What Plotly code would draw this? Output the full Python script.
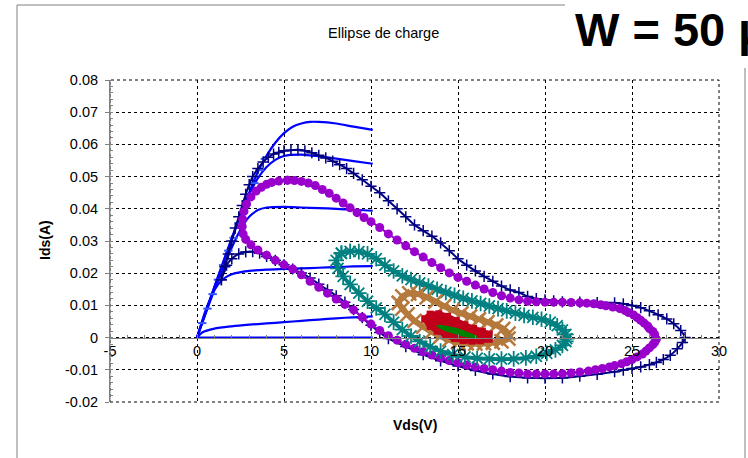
import plotly.graph_objects as go

# ---------------- data ----------------
# I-V network (Vgs steps), Vds in V, Ids in A
iv1_vds = [0, 1, 2, 3, 3.5, 4, 4.5, 5, 5.5, 6, 6.5, 7, 8, 9, 10.1]
iv1_ids = [0, 0.0158, 0.031, 0.045, 0.0515, 0.0565, 0.0605, 0.0635, 0.0655, 0.0665, 0.067, 0.067, 0.0665, 0.0655, 0.0645]
iv2_vds = [0, 1, 2, 2.5, 3, 3.5, 4, 4.5, 5, 6, 7, 8, 9, 10.1]
iv2_ids = [0, 0.0156, 0.0305, 0.038, 0.0445, 0.0495, 0.053, 0.0552, 0.0564, 0.0568, 0.0563, 0.0556, 0.0548, 0.054]
iv3_vds = [0, 1, 1.5, 2, 2.5, 3, 3.5, 4, 5, 6, 7, 8, 9, 10.1]
iv3_ids = [0, 0.0148, 0.0215, 0.028, 0.0335, 0.0375, 0.0396, 0.0404, 0.0406, 0.0404, 0.0402, 0.04, 0.0397, 0.0394]
iv4_vds = [0, 0.5, 1, 1.5, 2, 3, 4, 5, 6, 7, 8, 9, 10.1]
iv4_ids = [0, 0.0085, 0.0148, 0.0182, 0.0197, 0.0207, 0.0211, 0.0213, 0.0215, 0.0217, 0.0219, 0.0221, 0.0222]
iv5_vds = [0, 0.3, 1, 2, 3, 4, 5, 6, 7, 8, 9, 10.1]
iv5_ids = [0, 0.0016, 0.0028, 0.0035, 0.004, 0.0044, 0.0048, 0.0052, 0.0056, 0.006, 0.0063, 0.0066]
iv6_vds = [0, 10.1]
iv6_ids = [0, 0]

meas_vds = [0.3, 0.6, 0.9, 1.2, 1.5, 1.8, 2.1, 2.4, 2.7, 3.0, 3.3, 3.6, 3.9]
meas_ids = [0.0045, 0.009, 0.0135, 0.018, 0.0225, 0.027, 0.031, 0.0355, 0.040, 0.0445, 0.048, 0.052, 0.0555]

# Load cycle 1 (navy, + markers)
c1_vds = [1.4, 1.6, 1.8, 2.0, 2.2, 2.4, 2.6, 2.8, 3.0, 3.2, 3.5, 3.8, 4.1, 4.4, 4.7, 5.0, 5.4, 5.8,
          6.2, 6.6, 7.0, 7.4, 7.8, 8.2, 8.6, 9.0, 9.5, 10.0, 10.5, 11.0, 11.5, 12.0, 12.5, 13.0,
          13.5, 14.0, 14.5, 15.0, 15.5, 16.0, 16.5, 17.0, 17.5, 18.0, 18.5, 19.0, 19.5, 20.0,
          20.5, 21.0, 22.0, 23.0, 24.0, 24.5, 25.0, 25.5, 26.0, 26.5, 27.0, 27.4, 27.8, 28.05,
          27.9, 27.6, 27.2, 26.8, 26.4, 26.0, 25.5, 25.0, 24.5, 24.0, 23.0, 22.0, 21.0, 20.0,
          19.0, 18.0, 17.0, 16.0, 15.0, 14.0, 13.0, 12.0, 11.0, 10.5, 10.0, 9.5, 9.0, 8.5, 8.0,
          7.5, 7.0, 6.5, 6.0, 5.5, 5.0, 4.5, 4.0, 3.6, 3.2, 2.8, 2.4, 2.0, 1.7, 1.4]
c1_ids = [0.018, 0.022, 0.026, 0.030, 0.034, 0.0375, 0.041, 0.0445, 0.0475, 0.050, 0.0525, 0.0545,
          0.056, 0.057, 0.0575, 0.058, 0.0582, 0.0583, 0.058, 0.0574, 0.0566, 0.0558, 0.0548,
          0.0537, 0.0525, 0.051, 0.049, 0.047, 0.045, 0.0425, 0.040, 0.0375, 0.035, 0.0332,
          0.0315, 0.0294, 0.027, 0.0245, 0.0225, 0.0207, 0.019, 0.0175, 0.016, 0.0148, 0.014,
          0.0128, 0.0121, 0.0117, 0.0114, 0.0111, 0.011, 0.0109, 0.0108, 0.0105, 0.010, 0.0093,
          0.0083, 0.0071, 0.0058, 0.0043, 0.0022, 0.0, -0.0015, -0.0035, -0.0055, -0.0068,
          -0.0077, -0.0084, -0.0091, -0.0096, -0.0101, -0.0106, -0.0114, -0.012, -0.0125,
          -0.0126, -0.0125, -0.0121, -0.0113, -0.0102, -0.0088, -0.0072, -0.0053, -0.0028,
          -0.0003, 0.0016, 0.0038, 0.0062, 0.0087, 0.011, 0.013, 0.0148, 0.0166, 0.0185, 0.0201,
          0.0213, 0.0226, 0.024, 0.0252, 0.0262, 0.0267, 0.0266, 0.026, 0.0245, 0.0225, 0.018]

# Load cycle 2 (purple, circle markers)
c2_vds = [5.2, 5.6, 6.0, 6.4, 6.8, 7.2, 7.6, 8.0, 8.4, 8.8, 9.2, 9.6, 10.0, 10.5, 11.0, 11.5,
          12.0, 12.5, 13.0, 13.5, 14.0, 14.5, 15.0, 15.5, 16.0, 16.5, 17.0, 17.5, 18.0, 18.5,
          19.0, 19.5, 20.0, 20.5, 21.0, 21.5, 22.0, 22.4, 22.8, 23.2, 23.5, 23.9, 24.3, 24.6,
          24.8, 25.1, 25.3, 25.5, 25.7, 25.9, 26.0, 26.2, 26.3, 26.4, 26.3, 26.2, 26.0, 25.8,
          25.6, 25.3, 25.0, 24.7, 24.4, 24.0, 23.7, 23.3, 22.9, 22.5, 22.0, 21.5, 21.0, 20.5,
          20.0, 19.5, 19.0, 18.5, 18.0, 17.5, 17.0, 16.5, 16.0, 15.5, 15.0, 14.5, 14.0, 13.5,
          13.0, 12.5, 12.0, 11.5, 11.0, 10.5, 10.0, 9.5, 9.0, 8.5, 8.0, 7.5, 7.0, 6.5, 6.0,
          5.5, 5.0, 4.5, 4.0, 3.5, 3.1, 2.8, 2.65, 2.6, 2.62, 2.7, 2.85, 3.1, 3.4, 3.7, 4.0,
          4.3, 4.7, 5.2]
c2_ids = [0.0489, 0.0488, 0.0485, 0.048, 0.0472, 0.046, 0.0448, 0.0433, 0.0418, 0.0403, 0.0388,
          0.0373, 0.036, 0.0342, 0.0322, 0.0303, 0.0285, 0.0267, 0.025, 0.0233, 0.0217, 0.0201,
          0.0187, 0.0175, 0.0163, 0.0151, 0.014, 0.013, 0.0123, 0.0117, 0.0113, 0.0111, 0.011,
          0.011, 0.011, 0.0109, 0.0108, 0.0107, 0.0105, 0.0102, 0.0099, 0.0095, 0.009, 0.0084,
          0.0078, 0.007, 0.0062, 0.0054, 0.0045, 0.0036, 0.0028, 0.0019, 0.001, -0.0005, -0.0015,
          -0.0022, -0.0032, -0.0042, -0.0051, -0.006, -0.0068, -0.0075, -0.0081, -0.0087,
          -0.0091, -0.0096, -0.01, -0.0104, -0.0107, -0.011, -0.0112, -0.0113, -0.0113, -0.0113,
          -0.0113, -0.011, -0.0108, -0.0104, -0.01, -0.0096, -0.0091, -0.0085, -0.0078, -0.0071,
          -0.0063, -0.0054, -0.0044, -0.0033, -0.0021, -0.0008, 0.0006, 0.0022, 0.0042, 0.0063,
          0.0086, 0.0103, 0.012, 0.0138, 0.0156, 0.0175, 0.0195, 0.0213, 0.0226, 0.024, 0.0256,
          0.0272, 0.0288, 0.0305, 0.0322, 0.0345, 0.0368, 0.0392, 0.0415, 0.0437, 0.0455,
          0.0467, 0.0476, 0.0482, 0.0486, 0.0489]

# Load cycle 3 (teal, asterisk markers)
c3_vds = [8.3, 8.8, 9.3, 9.8, 10.3, 10.8, 11.3, 11.8, 12.3, 12.8, 13.3, 13.8, 14.3, 14.8, 15.3,
          15.8, 16.3, 16.8, 17.3, 17.8, 18.3, 18.8, 19.3, 19.8, 20.3, 20.7, 21.0, 21.2, 21.25,
          21.2, 21.0, 20.6, 20.1, 19.5, 18.9, 18.2, 17.5, 16.8, 16.1, 15.4, 14.7, 14.0, 13.4,
          12.8, 12.3, 11.8, 11.3, 10.8, 10.3, 9.8, 9.3, 8.8, 8.4, 8.1, 8.0, 8.3]
c3_ids = [0.0262, 0.0268, 0.0267, 0.026, 0.0245, 0.0225, 0.0207, 0.0192, 0.018, 0.017, 0.016,
          0.015, 0.014, 0.0131, 0.0122, 0.0114, 0.0106, 0.0098, 0.009, 0.0083, 0.0076, 0.0069,
          0.0063, 0.0057, 0.0048, 0.0037, 0.0024, 0.001, -0.0003, -0.0012, -0.0024, -0.0038,
          -0.0049, -0.0058, -0.0063, -0.0066, -0.0067, -0.0066, -0.0064, -0.006, -0.0053,
          -0.0042, -0.0028, -0.0012, 0.0005, 0.0025, 0.0048, 0.0072, 0.0092, 0.0113, 0.0138,
          0.0165, 0.019, 0.0215, 0.024, 0.0262]

# Load cycle 4 (brown, x markers)
c4_vds = [11.6, 11.8, 12.2, 12.7, 13.2, 13.7, 14.2, 14.7, 15.2, 15.7, 16.2, 16.7, 17.2, 17.6,
          17.9, 17.9, 17.5, 17.0, 16.5, 16.0, 15.5, 15.0, 14.5, 14.0, 13.5, 13.0, 12.5, 12.1,
          11.8, 11.6]
c4_ids = [0.0108, 0.0128, 0.0137, 0.0135, 0.0125, 0.0112, 0.0098, 0.0085, 0.0075, 0.0066, 0.0057,
          0.0048, 0.0038, 0.0027, 0.0012, -0.0003, -0.0012, -0.0016, -0.0018, -0.0019, -0.0018,
          -0.0014, -0.0007, 0.0004, 0.0018, 0.0034, 0.0052, 0.0072, 0.009, 0.0108]

# Load cycle 5 (red)
c5_vds = [13.1, 13.4, 13.9, 14.4, 14.9, 15.4, 15.9, 16.4, 16.8, 16.8, 16.3, 15.8, 15.3, 14.8,
          14.3, 13.8, 13.4, 13.1]
c5_ids = [0.0058, 0.0073, 0.0074, 0.0066, 0.0053, 0.004, 0.0029, 0.002, 0.0011, -0.0005, -0.001,
          -0.0011, -0.0009, -0.0003, 0.0007, 0.002, 0.0035, 0.0058]

# Load cycle 6 (green)
c6_vds = [13.8, 14.3, 14.8, 15.3, 15.8, 16.1, 15.6, 15.1, 14.6, 14.1, 13.8]
c6_ids = [0.0037, 0.0034, 0.0028, 0.002, 0.0009, 0.0002, 0.0003, 0.0009, 0.0017, 0.0027, 0.0037]

x_tickvals = [-5, 0, 5, 10, 15, 20, 25, 30]
x_ticktext = ["-5", "0", "5", "10", "15", "20", "25", "30"]
y_tickvals = [-0.02, -0.01, 0, 0.01, 0.02, 0.03, 0.04, 0.05, 0.06, 0.07, 0.08]
y_ticktext = ["-0.02", "-0.01", "0", "0.01", "0.02", "0.03", "0.04", "0.05", "0.06", "0.07", "0.08"]

chart_title = "Ellipse de charge"
x_title = "Vds(V)"
y_title = "Ids(A)"
side_text = "W = 50 µm"

# ---------------- figure ----------------
W, H = 748, 458
L, R, T, B = 110, 29, 80, 56
PW, PH = W - L - R, H - T - B


def px(x):
    return (x - L) / PW


def py(y):
    return (H - B - y) / PH


FONT = "Liberation Sans, Arial, sans-serif"
BLUE = "#0000FF"

fig = go.Figure()

for vx, vy in [(iv1_vds, iv1_ids), (iv2_vds, iv2_ids), (iv3_vds, iv3_ids),
               (iv4_vds, iv4_ids), (iv5_vds, iv5_ids), (iv6_vds, iv6_ids)]:
    fig.add_trace(go.Scatter(x=vx, y=vy, mode="lines",
                             line=dict(color=BLUE, width=2.2, shape="spline", smoothing=0.6),
                             showlegend=False, hoverinfo="skip"))

fig.add_trace(go.Scatter(x=meas_vds, y=meas_ids, mode="markers",
                         marker=dict(symbol="line-ew", size=6, line=dict(color="#3355FF", width=2)),
                         showlegend=False))

fig.add_trace(go.Scatter(x=c1_vds, y=c1_ids, mode="lines+markers",
                         line=dict(color="#000080", width=2, shape="spline", smoothing=0.5),
                         marker=dict(symbol="cross-thin", size=8, line=dict(color="#000080", width=1.5)),
                         showlegend=False))
fig.add_trace(go.Scatter(x=c2_vds, y=c2_ids, mode="lines+markers",
                         line=dict(color="#9900CC", width=2, shape="spline", smoothing=0.5),
                         marker=dict(symbol="circle", size=9, color="#9900CC"),
                         showlegend=False))
fig.add_trace(go.Scatter(x=c3_vds, y=c3_ids, mode="lines+markers",
                         line=dict(color="#008080", width=4, shape="spline", smoothing=0.5),
                         marker=dict(symbol="asterisk", size=13, line=dict(color="#008080", width=1.8)),
                         showlegend=False))
fig.add_trace(go.Scatter(x=c4_vds, y=c4_ids, mode="lines+markers",
                         line=dict(color="#B5793C", width=6, shape="spline", smoothing=0.5),
                         marker=dict(symbol="x-thin", size=14, line=dict(color="#B5793C", width=2.5)),
                         showlegend=False))
fig.add_trace(go.Scatter(x=c5_vds, y=c5_ids, mode="lines+markers", fill="toself", fillcolor="#C0001A",
                         line=dict(color="#C0001A", width=5, shape="spline", smoothing=0.5),
                         marker=dict(symbol="square", size=7, color="#C0001A"),
                         showlegend=False))
fig.add_trace(go.Scatter(x=c6_vds, y=c6_ids, mode="lines", fill="toself", fillcolor="#008000",
                         line=dict(color="#008000", width=2, shape="spline", smoothing=0.5),
                         showlegend=False))

GRID = dict(showgrid=True, gridcolor="#000000", griddash="dot", gridwidth=1)
TICKFONT = dict(family=FONT, size=14.5)

fig.update_layout(
    width=W, height=H,
    margin=dict(l=L, r=R, t=T, b=B, autoexpand=False),
    paper_bgcolor="white", plot_bgcolor="white",
    font=dict(family=FONT, size=12, color="black"),
    showlegend=False,
    xaxis=dict(range=[-5, 30], tickvals=x_tickvals, ticktext=x_ticktext,
               anchor="free", position=0.2, showline=True, linecolor="#808080", linewidth=1,
               ticks="inside", ticklen=4, tickcolor="#808080", zeroline=False,
               minor=dict(dtick=1, ticks="inside", ticklen=3, tickcolor="#808080", showgrid=False),
               tickfont=TICKFONT, automargin=False, **GRID),
    yaxis=dict(range=[-0.02, 0.08], tickvals=y_tickvals, ticktext=y_ticktext,
               showline=True, linecolor="#808080", linewidth=1, zeroline=False,
               ticks="outside", ticklen=4, tickcolor="#808080", ticklabelstandoff=4,
               minor=dict(dtick=0.002, tick0=0, ticks="inside", ticklen=3, tickcolor="#808080", showgrid=False),
               tickfont=TICKFONT, automargin=False, **GRID),
)

# plot-area border (dotted like grid) and outer chart frame
fig.add_shape(type="rect", xref="paper", yref="paper", x0=0, x1=1, y0=0, y1=1,
              line=dict(color="#000000", width=1, dash="dot"), layer="below")
fig.add_shape(type="line", xref="paper", yref="paper", x0=0, x1=0, y0=0, y1=1,
              line=dict(color="#808080", width=1))
frame = dict(color="#808080", width=1)
fig.add_shape(type="line", xref="paper", yref="paper", x0=px(17), x1=px(565), y0=py(5), y1=py(5), line=frame)
fig.add_shape(type="line", xref="paper", yref="paper", x0=px(17), x1=px(17), y0=py(5), y1=py(475), line=frame)
fig.add_shape(type="line", xref="paper", yref="paper", x0=px(745), x1=px(745), y0=py(68), y1=py(475), line=frame)

fig.add_annotation(text=chart_title, xref="paper", yref="paper", x=px(383), y=py(33),
                   showarrow=False, font=dict(family=FONT, size=14.5), xanchor="center", yanchor="middle")
fig.add_annotation(text="<b>" + x_title + "</b>", xref="paper", yref="paper", x=px(415), y=py(425),
                   showarrow=False, font=dict(family=FONT, size=14), xanchor="center", yanchor="middle")
fig.add_annotation(text="<b>" + y_title + "</b>", xref="paper", yref="paper", x=px(45), y=py(240),
                   showarrow=False, font=dict(family=FONT, size=14), textangle=-90,
                   xanchor="center", yanchor="middle")
fig.add_annotation(text="<b>" + side_text + "</b>", xref="paper", yref="paper", x=px(573), y=py(29),
                   showarrow=False, font=dict(family=FONT, size=47), xanchor="left", yanchor="middle")

fig.write_html("out.html", config={"displayModeBar": False})

# remove the browser's default page margin so the chart sits at the window's top-left corner
with open("out.html", encoding="utf-8") as f:
    page = f.read()
page = page.replace("<head>", "<head><style>html,body{margin:0;padding:0;overflow:hidden;}</style>", 1)
with open("out.html", "w", encoding="utf-8") as f:
    f.write(page)
